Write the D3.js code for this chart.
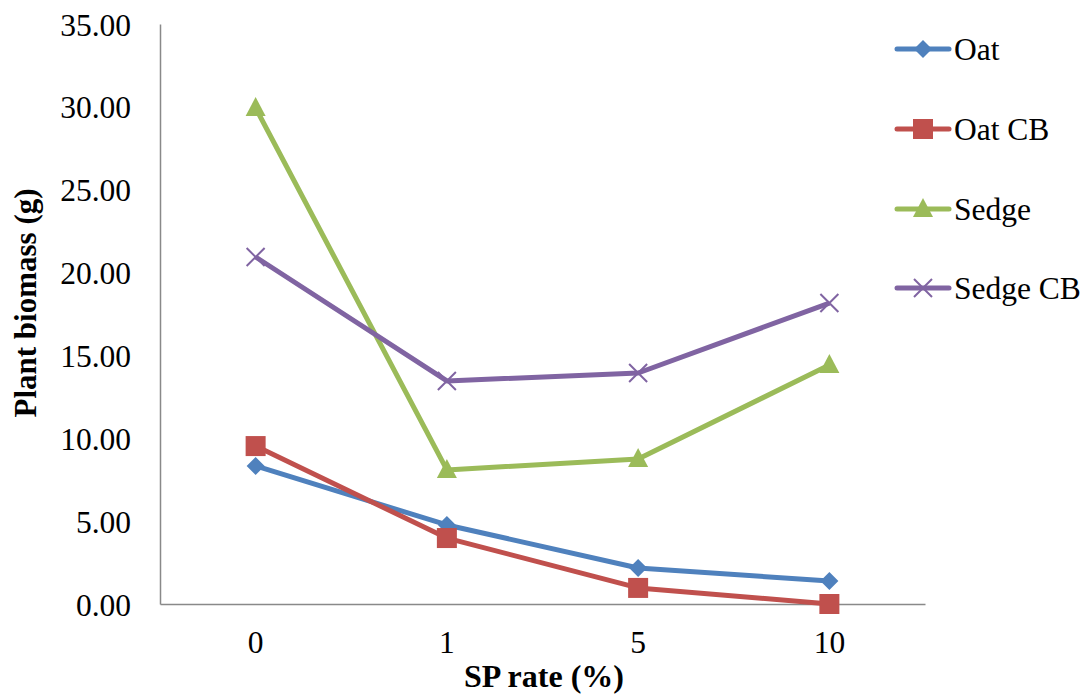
<!DOCTYPE html>
<html>
<head>
<meta charset="utf-8">
<script src="https://cdn.jsdelivr.net/npm/d3@7"></script>
<style>
  html, body { margin: 0; padding: 0; background: #fff; }
  svg { display: block; }
</style>
</head>
<body>
<svg id="chart" width="1088" height="696"></svg>
<script>
// SP rate categories (%)
const categories = ["0", "1", "5", "10"];

// Plant biomass (g) per series
const oat      = [8.33, 4.77, 2.17, 1.39];
const oatCB    = [9.53, 3.98, 0.97, 0.00];
const sedge    = [29.93, 8.09, 8.75, 14.42];
const sedgeCB  = [20.94, 13.46, 13.94, 18.16];

const seriesNames = ["Oat", "Oat CB", "Sedge", "Sedge CB"];
const yTicks = [0, 5, 10, 15, 20, 25, 30, 35];

const FONT = "Liberation Serif";

const series = [
  { name: seriesNames[0], values: oat,     color: "#4F81BD", marker: "diamond" },
  { name: seriesNames[1], values: oatCB,   color: "#C0504D", marker: "square" },
  { name: seriesNames[2], values: sedge,   color: "#9BBB59", marker: "triangle" },
  { name: seriesNames[3], values: sedgeCB, color: "#8064A2", marker: "x" }
];

const svg = d3.select("#chart");
const plot = { left: 160, right: 925, top: 24, bottom: 604 };

const x = d3.scaleBand().domain(categories).range([plot.left, plot.right]);
const y = d3.scaleLinear().domain([0, 35]).range([plot.bottom, plot.top]);
const cx = c => x(c) + x.bandwidth() / 2;

// Y axis
const yAxis = svg.append("g")
  .attr("transform", `translate(${plot.left},0)`)
  .call(d3.axisLeft(y).tickValues(yTicks).tickFormat(d3.format(".2f")).tickSize(0).tickPadding(29));
yAxis.select(".domain").attr("stroke", "#898989").attr("stroke-width", 1.5);
yAxis.selectAll("text")
  .style("font-family", FONT).style("font-size", "31.5px")
  .attr("fill", "#000").attr("dy", "0.35em");

// X axis
const xAxis = svg.append("g")
  .attr("transform", `translate(0,${plot.bottom})`)
  .call(d3.axisBottom(x).tickSize(0));
xAxis.select(".domain").attr("stroke", "#898989").attr("stroke-width", 1.5);
xAxis.selectAll("text")
  .style("font-family", FONT).style("font-size", "31.5px")
  .attr("fill", "#000").attr("y", 49).attr("dy", 0);

// Axis titles
svg.append("text")
  .attr("x", 544)
  .attr("y", 687)
  .attr("text-anchor", "middle")
  .style("font-family", FONT)
  .style("font-size", "32px")
  .style("font-weight", "bold")
  .text("SP rate (%)");

svg.append("text")
  .attr("transform", `translate(36,${(193 + 413) / 2}) rotate(-90)`)
  .attr("text-anchor", "middle")
  .style("font-family", FONT)
  .style("font-size", "31px")
  .style("font-weight", "bold")
  .text("Plant biomass (g)");

// Marker drawing
function drawMarker(g, type, color, px, py) {
  if (type === "diamond") {
    g.append("path")
      .attr("d", `M${px},${py - 9}L${px + 9},${py}L${px},${py + 9}L${px - 9},${py}Z`)
      .attr("fill", color);
  } else if (type === "square") {
    g.append("rect")
      .attr("x", px - 10).attr("y", py - 10)
      .attr("width", 20).attr("height", 20)
      .attr("fill", color);
  } else if (type === "triangle") {
    g.append("path")
      .attr("d", `M${px},${py - 11}L${px + 10},${py + 8}L${px - 10},${py + 8}Z`)
      .attr("fill", color);
  } else if (type === "x") {
    g.append("path")
      .attr("d", `M${px - 9},${py - 9}L${px + 9},${py + 9}M${px - 9},${py + 9}L${px + 9},${py - 9}`)
      .attr("stroke", color).attr("stroke-width", 2).attr("fill", "none");
  }
}

const line = d3.line().x(d => cx(d.c)).y(d => y(d.v));

series.forEach(s => {
  const pts = categories.map((c, i) => ({ c, v: s.values[i] }));
  const g = svg.append("g");
  g.append("path")
    .datum(pts)
    .attr("d", line)
    .attr("fill", "none")
    .attr("stroke", s.color)
    .attr("stroke-width", 5)
    .attr("stroke-linejoin", "round");
  pts.forEach(p => drawMarker(g, s.marker, s.color, cx(p.c), y(p.v)));
});

// Legend
const legendY = [49, 129, 209, 288];
series.forEach((s, i) => {
  const g = svg.append("g");
  const ly = legendY[i];
  g.append("line")
    .attr("x1", 897).attr("x2", 949)
    .attr("y1", ly).attr("y2", ly)
    .attr("stroke", s.color).attr("stroke-width", 5).attr("stroke-linecap", "round");
  drawMarker(g, s.marker, s.color, 923, ly);
  g.append("text")
    .attr("x", 954).attr("y", ly)
    .attr("dy", "0.35em")
    .style("font-family", FONT)
    .style("font-size", "31.5px")
    .attr("fill", "#000")
    .text(s.name);
});
</script>
</body>
</html>
